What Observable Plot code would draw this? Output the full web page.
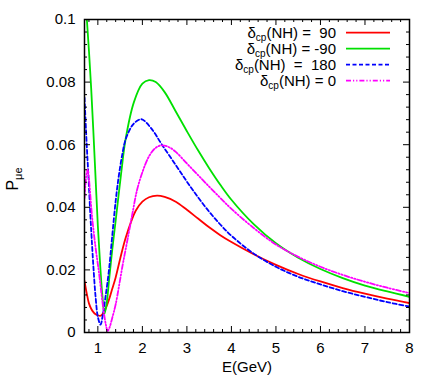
<!DOCTYPE html>
<html><head><meta charset="utf-8">
<script src="https://cdn.jsdelivr.net/npm/d3@7"></script>
<script src="https://cdn.jsdelivr.net/npm/@observablehq/plot@0.6"></script>
<style>body{margin:0;background:#fff}</style>
</head><body><div id="chart"></div>
<script>
// ---- data ----
const E_90  = [0.70,0.75,0.80,0.85,0.90,0.95,1.00,1.05,1.10,1.17,1.25,1.32,1.40,1.50,1.62,1.75,1.85,2.00,2.15,2.33,2.50,2.75,3.00,3.25,3.50,3.75,4.00,4.50,5.00,5.50,6.00,6.50,7.00,7.50,8.00];
const P_90  = [0.0165,0.0125,0.0093,0.0076,0.0065,0.0058,0.0055,0.0053,0.0058,0.0075,0.0105,0.0138,0.0176,0.0235,0.0300,0.0355,0.0389,0.0418,0.0432,0.0437,0.0433,0.0418,0.0392,0.0364,0.0336,0.0311,0.0289,0.0250,0.0216,0.0187,0.0163,0.0142,0.0124,0.0108,0.0094];

const E_m90 = [0.72,0.753,0.80,0.85,0.90,0.95,1.00,1.05,1.10,1.15,1.20,1.25,1.32,1.40,1.53,1.62,1.81,2.00,2.15,2.30,2.50,2.75,3.00,3.25,3.50,3.75,4.00,4.50,5.00,5.50,6.00,6.50,7.00,7.50,8.00];
const P_m90 = [0.108,0.100,0.090,0.078,0.064,0.049,0.034,0.022,0.012,0.0060,0.0095,0.0165,0.026,0.0357,0.0517,0.0615,0.0736,0.0795,0.0806,0.0800,0.0768,0.0706,0.0643,0.0582,0.0525,0.0472,0.0424,0.0346,0.0285,0.0239,0.0203,0.0174,0.0150,0.0131,0.0114];

const E_180 = [0.70,0.75,0.79,0.83,0.86,0.90,0.95,1.00,1.06,1.11,1.17,1.25,1.32,1.40,1.47,1.55,1.62,1.77,1.90,1.99,2.20,2.44,2.75,3.00,3.25,3.50,3.75,4.00,4.50,5.00,5.50,6.00,6.50,7.00,7.50,8.00];
const P_180 = [0.075,0.060,0.0495,0.038,0.0304,0.021,0.0112,0.0050,0.0025,0.0055,0.0112,0.020,0.0304,0.042,0.0500,0.0570,0.0615,0.0661,0.0678,0.0681,0.0652,0.0600,0.0535,0.0482,0.0432,0.0386,0.0345,0.0309,0.0252,0.0210,0.0178,0.0154,0.0132,0.0114,0.0097,0.0083];

const E_0   = [0.70,0.74,0.77,0.80,0.87,0.95,1.02,1.08,1.13,1.18,1.22,1.26,1.32,1.40,1.55,1.65,1.77,1.88,2.00,2.15,2.30,2.44,2.60,2.75,3.00,3.25,3.50,3.75,4.00,4.50,5.00,5.50,6.00,6.50,7.00,7.50,8.00];
const P_0   = [0.043,0.050,0.052,0.049,0.037,0.027,0.0197,0.0125,0.0069,0.0025,0.0005,0.0015,0.0045,0.0090,0.0210,0.0285,0.0375,0.0455,0.0512,0.0563,0.0590,0.0598,0.0592,0.0577,0.0540,0.0503,0.0466,0.0430,0.0395,0.0334,0.0281,0.0242,0.0210,0.0184,0.0162,0.0143,0.0126];

const xMajor = [1,2,3,4,5,6,7,8];
const xMinor = d3.range(0.8, 8.0001, 0.2).map(v => +v.toFixed(2)).filter(v => Math.abs(v - Math.round(v)) > 1e-6);
const yMajor = [0,0.02,0.04,0.06,0.08,0.1];
const yMinor = d3.range(0, 0.1001, 0.004).map(v => +v.toFixed(3)).filter(v => !yMajor.some(m => Math.abs(m - v) < 1e-9));
const yTickLabels = ["0","0.02","0.04","0.06","0.08","0.1"];

const seriesNames = ["90","-90","180","0"];
const legendTexts = ["(NH) = \u00a090","(NH) = -90","(NH) \u00a0= \u00a0180","(NH) = 0"];

// ---- layout ----
const W = 436, H = 382, mL = 84, mR = 27, mT = 19, mB = 50;
const fw = W - mL - mR, fh = H - mT - mB;

const styles = {
  "90":  {stroke: "#ff0000", strokeDasharray: null},
  "-90": {stroke: "#00e000", strokeDasharray: null},
  "180": {stroke: "#0000ff", strokeDasharray: "4,2.5"},
  "0":   {stroke: "#ff00ff", strokeDasharray: "5,2,1.2,2,1.2,2"}
};
const toRows = (E, P) => E.map((e, i) => ({E: e, P: P[i]}));
const seriesData = {"90": toRows(E_90, P_90), "-90": toRows(E_m90, P_m90), "180": toRows(E_180, P_180), "0": toRows(E_0, P_0)};

const lineMarks = seriesNames.map(k => Plot.line(seriesData[k], {
  x: "E", y: "P", stroke: styles[k].stroke, strokeWidth: 1.8,
  strokeDasharray: styles[k].strokeDasharray, curve: "catmull-rom", clip: true
}));

const plot = Plot.plot({
  width: W, height: H, marginLeft: mL, marginRight: mR, marginTop: mT, marginBottom: mB,
  x: {domain: [0.7, 8]},
  y: {domain: [0, 0.1]},
  style: {fontFamily: "'Liberation Sans', Arial, Helvetica, sans-serif", fontSize: "15px", color: "black", background: "white", overflow: "visible"},
  marks: [
    ...lineMarks,
    Plot.tickX(xMajor, {x: d => d, insetTop: fh - 6, stroke: "black", strokeWidth: 1}),
    Plot.tickX(xMajor, {x: d => d, insetBottom: fh - 6, stroke: "black", strokeWidth: 1}),
    Plot.tickX(xMinor, {x: d => d, insetTop: fh - 3, stroke: "black", strokeWidth: 1}),
    Plot.tickX(xMinor, {x: d => d, insetBottom: fh - 3, stroke: "black", strokeWidth: 1}),
    Plot.tickY(yMajor, {y: d => d, insetRight: fw - 6, stroke: "black", strokeWidth: 1}),
    Plot.tickY(yMajor, {y: d => d, insetLeft: fw - 6, stroke: "black", strokeWidth: 1}),
    Plot.tickY(yMinor, {y: d => d, insetRight: fw - 3, stroke: "black", strokeWidth: 1}),
    Plot.tickY(yMinor, {y: d => d, insetLeft: fw - 3, stroke: "black", strokeWidth: 1}),
    Plot.frame({stroke: "black", strokeWidth: 1.5}),
    Plot.axisX(xMajor, {tickSize: 0, tickPadding: 10, label: null, tickFormat: d => String(d)}),
    Plot.axisY(yMajor, {tickSize: 0, tickPadding: 9, label: null, tickFormat: (d, i) => yTickLabels[i]}),
    Plot.text(["E(GeV)"], {frameAnchor: "bottom", dy: 39, fontSize: 15})
  ]
});
document.getElementById("chart").appendChild(plot);

// ---- y label and legend ----
const svg = d3.select(plot);
const yl = svg.append("text")
  .attr("transform", "translate(18,179) rotate(-90)")
  .attr("text-anchor", "middle")
  .attr("font-size", 16).attr("fill", "black");
yl.append("tspan").text("P");
yl.append("tspan").attr("dy", 4).attr("font-size", 11).text("\u03bce");

const lg = svg.append("g");
const legX = mL + fw - 19;   // line end
seriesNames.forEach((k, i) => {
  const yy = 32.7 + i * 16;
  lg.append("line").attr("x1", legX - 44).attr("x2", legX).attr("y1", yy).attr("y2", yy)
    .attr("stroke", styles[k].stroke).attr("stroke-width", 1.8)
    .attr("stroke-dasharray", styles[k].strokeDasharray);
  const t = lg.append("text").attr("x", legX - 54).attr("y", yy + 5)
    .attr("text-anchor", "end").attr("font-size", 15).attr("fill", "black")
    .style("white-space", "pre");
  t.append("tspan").text("\u03b4");
  t.append("tspan").attr("dy", 3).attr("font-size", 10).text("cp");
  t.append("tspan").attr("dy", -3).text(legendTexts[i]);
});
</script>
</body></html>
